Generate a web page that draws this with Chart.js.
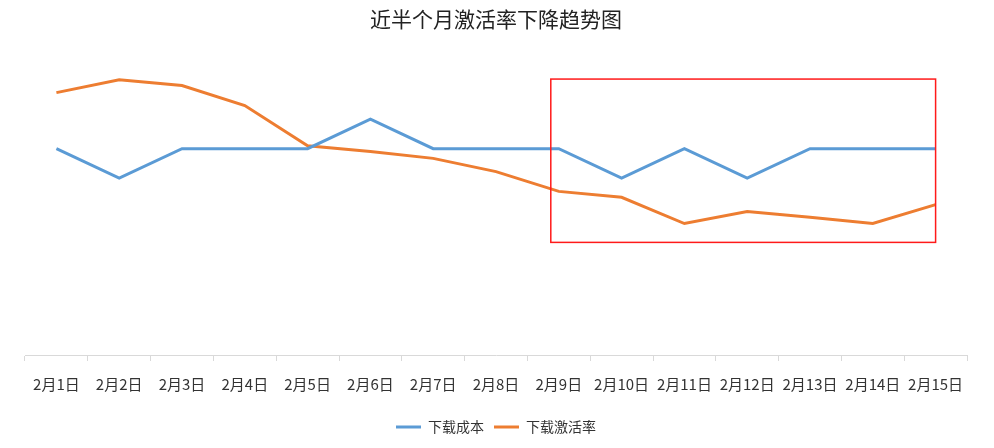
<!DOCTYPE html>
<html>
<head>
<meta charset="utf-8">
<script src="https://cdn.jsdelivr.net/npm/chart.js@4.4.1/dist/chart.umd.min.js"></script>
<style>
  html, body { margin: 0; padding: 0; background: #fff; }
  #wrap { width: 994px; height: 448px; }
</style>
</head>
<body>
<div id="wrap"><canvas id="line-chart"></canvas></div>
<script>
const dias = ['2月1日', '2月2日', '2月3日', '2月4日', '2月5日', '2月6日', '2月7日', '2月8日',
              '2月9日', '2月10日', '2月11日', '2月12日', '2月13日', '2月14日', '2月15日'];
const costo = [7, 6, 7, 7, 7, 8, 7, 7, 7, 6, 7, 6, 7, 7, 7];
const activacion = [8.9, 9.34, 9.14, 8.46, 7.1, 6.9, 6.67, 6.22, 5.55, 5.35, 4.46, 4.87, 4.67, 4.46, 5.1];
// tramo resaltado con el recuadro rojo
const tramo = ['2月9日', '2月15日'];
const tramoValores = [3.82, 9.36];

const fuente = '"Noto Sans CJK SC", "Noto Sans", sans-serif';

// Recuadro rojo sobre el tramo final
const recuadro = {
    id: 'recuadro',
    afterDatasetsDraw(chart) {
        const { ctx, scales: { x, y } } = chart;
        const x0 = x.getPixelForValue(dias.indexOf(tramo[0])) - 8;
        const x1 = x.getPixelForValue(dias.indexOf(tramo[1]));
        const y0 = y.getPixelForValue(tramoValores[1]);
        const y1 = y.getPixelForValue(tramoValores[0]);
        ctx.save();
        ctx.strokeStyle = '#ff1a1a';
        ctx.lineWidth = 1.5;
        ctx.strokeRect(x0, y0, x1 - x0, y1 - y0);
        ctx.restore();
    }
};

new Chart(document.getElementById('line-chart').getContext('2d'), {
    type: 'line',
    data: {
        labels: dias,
        datasets: [{
            label: '下载成本',
            data: costo,
            borderColor: '#5b9bd5',
            backgroundColor: '#5b9bd5',
            borderWidth: 3,
            pointRadius: 0,
            tension: 0,
            fill: false
        }, {
            label: '下载激活率',
            data: activacion,
            borderColor: '#ed7d31',
            backgroundColor: '#ed7d31',
            borderWidth: 3,
            pointRadius: 0,
            tension: 0,
            fill: false
        }]
    },
    options: {
        responsive: true,
        maintainAspectRatio: false,
        animation: false,
        layout: { padding: { left: 25, right: 27, top: 0, bottom: 4 } },
        plugins: {
            title: {
                display: true,
                text: '近半个月激活率下降趋势图',
                color: '#222',
                font: { family: fuente, size: 21, weight: 'normal' },
                padding: { top: 6, bottom: 29 }
            },
            legend: {
                position: 'bottom',
                labels: {
                    usePointStyle: true,
                    pointStyle: 'line',
                    pointStyleWidth: 25,
                    color: '#333',
                    font: { family: fuente, size: 14 },
                    padding: 10
                }
            },
            tooltip: { enabled: false }
        },
        scales: {
            x: {
                offset: true,
                grid: {
                    offset: true,
                    drawOnChartArea: false,
                    drawTicks: true,
                    tickLength: 6,
                    color: '#d9d9d9'
                },
                border: { color: '#d9d9d9', width: 1 },
                ticks: {
                    color: '#333',
                    font: { family: fuente, size: 15 },
                    padding: 14,
                    maxRotation: 0,
                    autoSkip: false
                },
                afterFit(scale) { scale.height = 55; }
            },
            y: {
                display: false,
                min: 0,
                max: 10
            }
        }
    },
    plugins: [recuadro]
});
</script>
</body>
</html>
